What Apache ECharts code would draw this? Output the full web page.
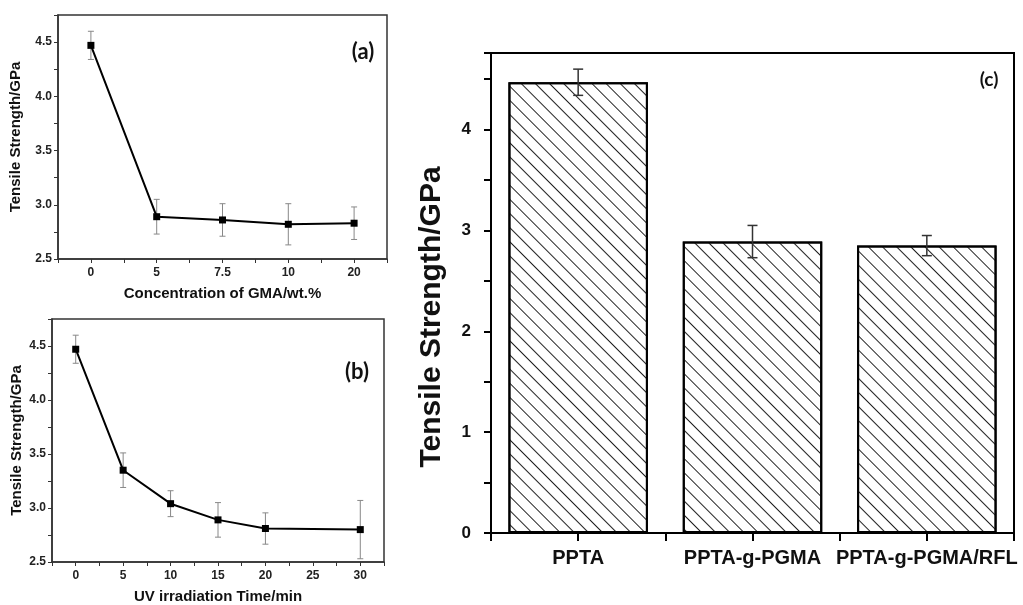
<!DOCTYPE html>
<html>
<head>
<meta charset="utf-8">
<script src="https://cdn.jsdelivr.net/npm/echarts@6/dist/echarts.min.js"></script>
<style>
  html, body { margin: 0; background: #fff; }
  #chart { width: 1023px; height: 605px; }
</style>
</head>
<body>
<div id="chart"></div>
<script>
// (a) tensile strength vs GMA concentration
const gmaLabels = ['0', '5', '7.5', '10', '20'];
const gmaStrength = [4.47, 2.89, 2.86, 2.82, 2.83];
const gmaError = [0.13, 0.16, 0.15, 0.19, 0.15];

// (b) tensile strength vs UV irradiation time
const uvTime = [0, 5, 10, 15, 20, 30];
const uvStrength = [4.47, 3.35, 3.04, 2.89, 2.81, 2.80];
const uvError = [0.13, 0.16, 0.12, 0.16, 0.145, 0.27];

// (c) fibre comparison
const fibers = ['PPTA', 'PPTA-g-PGMA', 'PPTA-g-PGMA/RFL'];
const fiberStrength = [4.47, 2.89, 2.85];
const fiberError = [0.13, 0.16, 0.10];

const FONT = 'Liberation Sans, Arial, sans-serif';

function isMultiple(v, step) {
  const k = v / step;
  return Math.abs(k - Math.round(k)) < 1e-6;
}

// vertical error bar with caps
function errorBar(capWidth, color, width) {
  return function (params, api) {
    const lo = api.coord([api.value(0), api.value(1)]);
    const hi = api.coord([api.value(0), api.value(2)]);
    const h = capWidth / 2;
    const style = { stroke: color, lineWidth: width };
    return {
      type: 'group',
      children: [
        { type: 'line', shape: { x1: lo[0], y1: lo[1], x2: hi[0], y2: hi[1] }, style },
        { type: 'line', shape: { x1: lo[0] - h, y1: lo[1], x2: lo[0] + h, y2: lo[1] }, style },
        { type: 'line', shape: { x1: hi[0] - h, y1: hi[1], x2: hi[0] + h, y2: hi[1] }, style }
      ]
    };
  };
}

const smallAxisLine = { show: true, onZero: false, lineStyle: { color: '#333', width: 1.5 } };
const smallTick = { show: true, length: 4, lineStyle: { color: '#333', width: 1 } };
const smallLabel = { color: '#222', fontSize: 12, fontWeight: 'bold', fontFamily: FONT };
const smallName = { color: '#111', fontSize: 15, fontWeight: 'bold', fontFamily: FONT };
const bigLine = { show: true, onZero: false, lineStyle: { color: '#000', width: 2 } };
const bigTick = { show: true, length: 7, lineStyle: { color: '#000', width: 2 } };

const chart = echarts.init(document.getElementById('chart'));

chart.setOption({
  animation: false,
  backgroundColor: '#fff',
  grid: [
    { left: 58, top: 15, width: 329, height: 244, show: true, borderColor: '#333', borderWidth: 1.5 },
    { left: 52, top: 319, width: 332, height: 244, show: true, borderColor: '#333', borderWidth: 1.5 },
    { left: 491, top: 53, width: 523, height: 480, show: true, borderColor: '#000', borderWidth: 2 }
  ],
  xAxis: [
    {
      gridIndex: 0, type: 'value', min: -0.5, max: 4.5, interval: 0.5,
      axisLine: smallAxisLine, axisTick: smallTick, splitLine: { show: false },
      axisLabel: Object.assign({ margin: 8, formatter: v => isMultiple(v, 1) ? gmaLabels[Math.round(v)] : '' }, smallLabel),
      name: 'Concentration of GMA/wt.%', nameLocation: 'middle', nameGap: 27, nameTextStyle: smallName
    },
    {
      gridIndex: 1, type: 'value', min: -2.5, max: 32.5, interval: 2.5,
      axisLine: smallAxisLine, axisTick: smallTick, splitLine: { show: false },
      axisLabel: Object.assign({ margin: 8, formatter: v => isMultiple(v, 5) ? String(Math.round(v)) : '' }, smallLabel),
      name: 'UV irradiation Time/min', nameLocation: 'middle', nameGap: 27, nameTextStyle: smallName
    },
    {
      gridIndex: 2, type: 'category', data: fibers, boundaryGap: true, position: 'bottom',
      axisLine: bigLine,
      axisTick: bigTick,
      axisLabel: { margin: 15, color: '#111', fontSize: 20, fontWeight: 'bold', fontFamily: FONT, interval: 0 }
    },
    {
      // tick-only axis: ticks at bar centres and bar boundaries
      gridIndex: 2, type: 'value', min: -0.5, max: 2.5, interval: 0.5, position: 'bottom',
      axisLine: bigLine,
      axisTick: { show: true, length: 8, lineStyle: { color: '#000', width: 2 } },
      axisLabel: { show: false },
      splitLine: { show: false }
    }
  ],
  yAxis: [
    {
      gridIndex: 0, type: 'value', min: 2.5, max: 4.75, interval: 0.25,
      axisLine: smallAxisLine, axisTick: smallTick,
      splitLine: { show: false },
      axisLabel: Object.assign({ margin: 6, formatter: v => isMultiple(v, 0.5) ? v.toFixed(1) : '' }, smallLabel),
      name: 'Tensile Strength/GPa', nameLocation: 'middle', nameGap: 35, nameTextStyle: smallName
    },
    {
      gridIndex: 1, type: 'value', min: 2.5, max: 4.75, interval: 0.25,
      axisLine: smallAxisLine, axisTick: smallTick,
      splitLine: { show: false },
      axisLabel: Object.assign({ margin: 6, formatter: v => isMultiple(v, 0.5) ? v.toFixed(1) : '' }, smallLabel),
      name: 'Tensile Strength/GPa', nameLocation: 'middle', nameGap: 28, nameTextStyle: smallName
    },
    {
      gridIndex: 2, type: 'value', min: 0, max: 4.76, interval: 0.5,
      axisLine: bigLine,
      axisTick: bigTick,
      splitLine: { show: false },
      axisLabel: {
        margin: 20, color: '#111', fontSize: 17, fontWeight: 'bold', fontFamily: FONT,
        formatter: v => isMultiple(v, 1) ? String(Math.round(v)) : ''
      }
    }
  ],
  graphic: [
    { type: 'text', x: 363, y: 52, style: { text: '(a)', font: 'bold 22px Lato, sans-serif', fill: '#111', align: 'center', verticalAlign: 'middle' } },
    { type: 'text', x: 357, y: 372, style: { text: '(b)', font: 'bold 22px Lato, sans-serif', fill: '#111', align: 'center', verticalAlign: 'middle' } },
    { type: 'text', x: 989, y: 80, style: { text: '(c)', font: 'bold 19px Lato, sans-serif', fill: '#111', align: 'center', verticalAlign: 'middle' } },
    {
      type: 'text', x: 432, y: 317, rotation: Math.PI / 2,
      style: { text: 'Tensile Strength/GPa', font: 'bold 30px Liberation Sans, Arial, sans-serif', fill: '#111', align: 'center', verticalAlign: 'middle' }
    }
  ],
  series: [
    {
      type: 'line', xAxisIndex: 0, yAxisIndex: 0, z: 3,
      data: gmaStrength.map((v, i) => [i, v]),
      symbol: 'rect', symbolSize: 7,
      lineStyle: { color: '#000', width: 2 }, itemStyle: { color: '#000' }
    },
    {
      type: 'custom', xAxisIndex: 0, yAxisIndex: 0, z: 2,
      renderItem: errorBar(6, '#888', 1),
      encode: { x: 0, y: [1, 2] },
      data: gmaStrength.map((v, i) => [i, v - gmaError[i], v + gmaError[i]])
    },
    {
      type: 'line', xAxisIndex: 1, yAxisIndex: 1, z: 3,
      data: uvTime.map((t, i) => [t, uvStrength[i]]),
      symbol: 'rect', symbolSize: 7,
      lineStyle: { color: '#000', width: 2 }, itemStyle: { color: '#000' }
    },
    {
      type: 'custom', xAxisIndex: 1, yAxisIndex: 1, z: 2,
      renderItem: errorBar(6, '#888', 1),
      encode: { x: 0, y: [1, 2] },
      data: uvTime.map((t, i) => [t, uvStrength[i] - uvError[i], uvStrength[i] + uvError[i]])
    },
    {
      type: 'bar', xAxisIndex: 2, yAxisIndex: 2,
      data: fiberStrength,
      barCategoryGap: '20%',
      itemStyle: {
        color: '#fff', borderColor: '#000', borderWidth: 2,
        decal: {
          symbol: 'rect', symbolSize: 1, color: '#222',
          dashArrayX: [1, 0], dashArrayY: [1, 8.5], rotation: Math.PI / 4
        }
      }
    },
    {
      type: 'custom', xAxisIndex: 2, yAxisIndex: 2, z: 5,
      renderItem: errorBar(10, '#333', 1.5),
      encode: { x: 0, y: [1, 2] },
      data: fiberStrength.map((v, i) => [i, v - fiberError[i], v + fiberError[i]])
    }
  ]
});
</script>
</body>
</html>
